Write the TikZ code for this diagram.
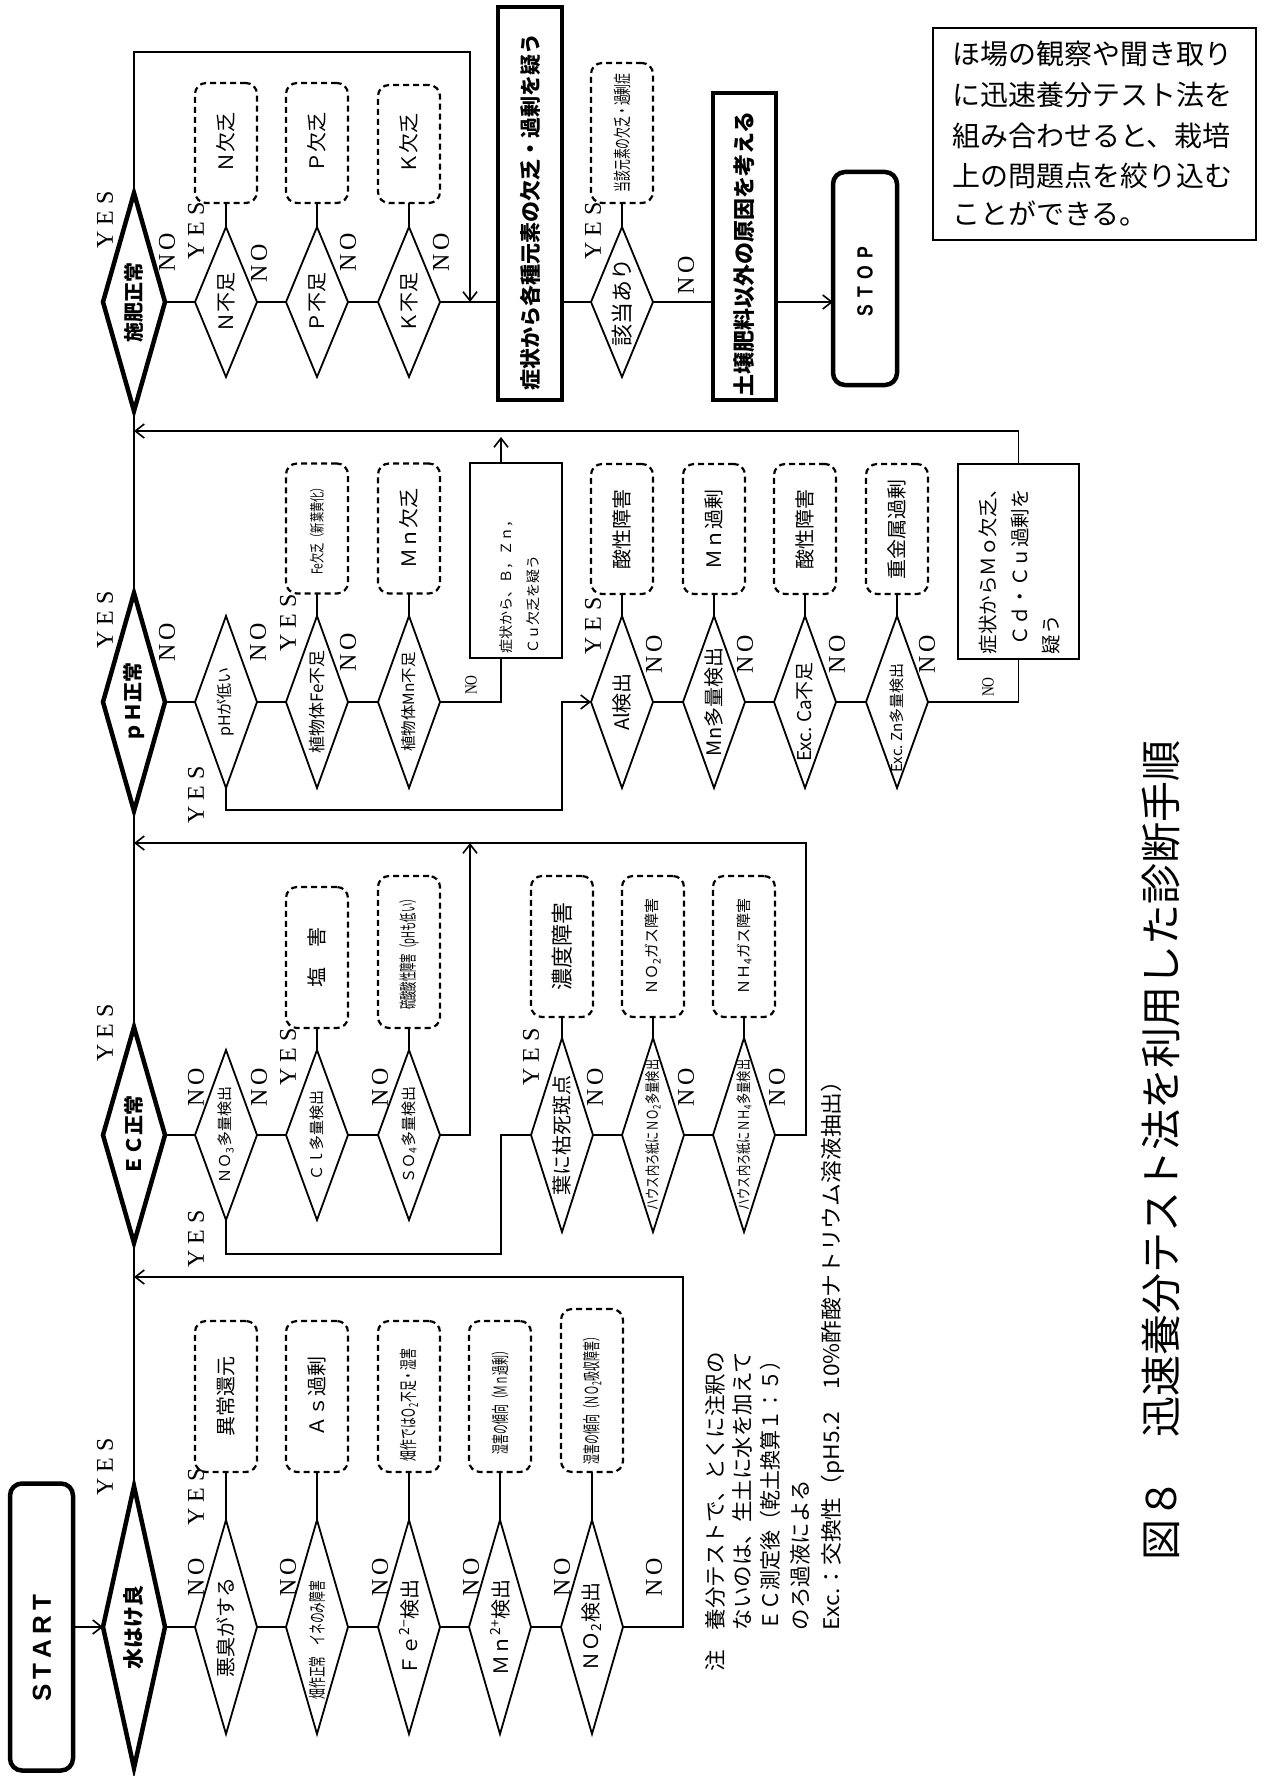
\documentclass[tikz,border=0pt]{standalone}
\usepackage{fontspec}
\usepackage{graphicx}
\setmainfont{Liberation Serif}
\newfontfamily\jp{Noto Sans CJK JP}
\newfontfamily\lsans{Liberation Sans}
\usetikzlibrary{shapes.geometric,arrows.meta}
\newcommand\fs[1]{\fontsize{#1}{#1}\selectfont}
\newcommand\cnd[2]{\scalebox{#1}[1]{#2}}
\newcommand\subs[1]{\textsubscript{#1}}
\newcommand\yesL{Y\hspace{6pt}E\hspace{6pt}S}
\newcommand\noL{N\hspace{4pt}O}
\begin{document}
\begin{tikzpicture}[x=1pt,y=-1pt,
  every node/.style={inner sep=0pt, outer sep=0pt},
  maindia/.style={diamond, draw, line width=4.5pt, minimum width=62pt},
  subdia/.style={diamond, draw, line width=1.8pt, minimum width=62pt},
  resbox/.style={draw, line width=2.2pt, dash pattern=on 6pt off 4pt, rounded corners=11pt, minimum width=62pt},
  thickbox/.style={draw, line width=4.5pt, rectangle},
  notebox/.style={draw, line width=1.5pt, rectangle},
  t/.style={rotate=90, font={\jp\fs{#1}}},
  tb/.style={rotate=90, font={\jp\bfseries\fs{#1}}},
  yn/.style={rotate=90, font={\fs{24}}},
  ln/.style={line width=2.2pt},
  thin/.style={line width=1.6pt},
  arr/.style={-{Straight Barb[length=9pt,width=14pt]}},
]
\fill[white] (0,0) rectangle (1272,1776);
\useasboundingbox (0,0) rectangle (1272,1776);

% ---------- START ----------
\node[thickbox, rounded corners=12pt, minimum width=63pt, minimum height=287pt] (start) at (41.5,1627) {};
\node[rotate=90, font={\lsans\bfseries\fs{26}}] (startt) at (42,1648) {S\hspace{5pt}T\hspace{5pt}A\hspace{5pt}R\hspace{5pt}T};

% ---------- water section ----------
\node[maindia, minimum height=282pt] (wm) at (134,1627) {};
\node[tb=21] (wmt) at (wm) {水はけ良};
\node[subdia, minimum height=214pt] (w1) at (226,1627) {};
\node[subdia, minimum height=214pt] (w2) at (317,1627) {};
\node[subdia, minimum height=214pt] (w3) at (409,1627) {};
\node[subdia, minimum height=214pt] (w4) at (500,1627) {};
\node[subdia, minimum height=214pt] (w5) at (592,1627) {};
\node[t=20] (w1t) at (w1) {悪臭がする};
\node[t=18] (w2t) at (317,1640) {\cnd{0.6}{畑作正常　イネのみ障害}};
\node[t=20] (w3t) at (w3) {Ｆｅ\textsuperscript{2−}検出};
\node[t=20] (w4t) at (w4) {Ｍｎ\textsuperscript{2+}検出};
\node[t=20] (w5t) at (w5) {ＮＯ\subs{2}検出};
\node[resbox, minimum height=151pt] (wb1) at (226,1396.5) {};
\node[resbox, minimum height=151pt] (wb2) at (317,1396.5) {};
\node[resbox, minimum height=151pt] (wb3) at (409,1396.5) {};
\node[resbox, minimum height=151pt] (wb4) at (500,1396.5) {};
\node[resbox, minimum height=163pt] (wb5) at (592,1390.5) {};
\node[t=20] (wb1t) at (wb1) {異常還元};
\node[t=20] (wb2t) at (wb2) {Ａｓ過剰};
\node[t=18] (wb3t) at (409,1405) {\cnd{0.6}{畑作ではＯ\subs{2}不足・湿害}};
\node[t=18] (wb4t) at (500,1400) {\cnd{0.55}{湿害の傾向（Ｍｎ過剰）}};
\node[t=18] (wb5t) at (592,1398) {\cnd{0.55}{湿害の傾向（ＮＯ\subs{2}吸収障害）}};
\foreach \i in {1,...,5} \draw[ln] (w\i.north) -- (wb\i.south);
\draw[ln] (wm.east) -- (w1.west);
\draw[ln] (w1.east) -- (w2.west);
\draw[ln] (w2.east) -- (w3.west);
\draw[ln] (w3.east) -- (w4.west);
\draw[ln] (w4.east) -- (w5.west);
\coordinate (wr) at (683,1277);
\coordinate (ws) at (134,1277);
\draw[thin,arr] (w5.east) -| (wr) -- (ws);
\draw[thin,arr] (start.east) -- (wm.west);

% ---------- EC section ----------
\node[maindia, minimum height=216pt] (ecm) at (134,1135) {};
\node[tb=20] (ecmt) at (ecm) {ＥＣ正常};
\node[subdia, minimum height=170pt] (e1) at (226,1135) {};
\node[subdia, minimum height=170pt] (e2) at (317,1135) {};
\node[subdia, minimum height=170pt] (e3) at (409,1135) {};
\node[subdia, minimum height=194pt] (e4) at (562,1135) {};
\node[subdia, minimum height=194pt] (e5) at (653,1135) {};
\node[subdia, minimum height=194pt] (e6) at (744,1135) {};
\node[t=15] (e1t) at (e1) {ＮＯ\subs{3}多量検出};
\node[t=15] (e2t) at (e2) {Ｃｌ多量検出};
\node[t=15] (e3t) at (e3) {ＳＯ\subs{4}多量検出};
\node[t=20] (e4t) at (e4) {葉に枯死斑点};
\node[t=15] (e5t) at (e5) {\cnd{0.75}{ハウス内ろ紙にＮＯ\subs{2}多量検出}};
\node[t=15] (e6t) at (e6) {\cnd{0.75}{ハウス内ろ紙にＮＨ\subs{4}多量検出}};
\node[resbox, minimum height=141pt] (eb2) at (317,957.5) {};
\node[resbox, minimum height=152pt] (eb3) at (409,952) {};
\node[resbox, minimum height=141pt] (eb4) at (562,946.5) {};
\node[resbox, minimum height=141pt] (eb5) at (653,946.5) {};
\node[resbox, minimum height=141pt] (eb6) at (744,946.5) {};
\node[t=20] (eb2t) at (eb2) {塩　害};
\node[t=18] (eb3t) at (eb3) {\cnd{0.52}{硫酸酸性障害（pHも低い）}};
\node[t=22] (eb4t) at (eb4) {濃度障害};
\node[t=15] (eb5t) at (eb5) {ＮＯ\subs{2}ガス障害};
\node[t=15] (eb6t) at (eb6) {ＮＨ\subs{4}ガス障害};
\foreach \i in {2,...,6} \draw[ln] (e\i.north) -- (eb\i.south);
\draw[ln] (ecm.east) -- (e1.west);
\draw[ln] (e1.east) -- (e2.west);
\draw[ln] (e2.east) -- (e3.west);
\draw[ln] (e4.east) -- (e5.west);
\draw[ln] (e5.east) -- (e6.west);
\coordinate (ea) at (470,843);
\draw[thin,arr] (e3.east) -| (ea);
\coordinate (er) at (806,843);
\coordinate (es) at (134,843);
\draw[thin,arr] (e6.east) -| (er) -- (es);
\coordinate (eb) at (501,1254);
\draw[thin] (e1.south) |- (eb) |- (e4.west);

% ---------- pH section ----------
\node[maindia, minimum height=218pt] (phm) at (134,702) {};
\node[tb=20] (phmt) at (phm) {ｐＨ正常};
\node[subdia, minimum height=172pt] (p1) at (226,702) {};
\node[subdia, minimum height=172pt] (p2) at (317,702) {};
\node[subdia, minimum height=172pt] (p3) at (409,702) {};
\node[subdia, minimum height=172pt] (p4) at (622,702) {};
\node[subdia, minimum height=172pt] (p5) at (714,702) {};
\node[subdia, minimum height=172pt] (p6) at (805,702) {};
\node[subdia, minimum height=172pt] (p7) at (897,702) {};
\node[t=16] (p1t) at (p1) {pHが低い};
\node[t=17] (p2t) at (p2) {植物体Fe不足};
\node[t=15.5] (p3t) at (p3) {植物体Mn不足};
\node[t=20] (p4t) at (p4) {Al検出};
\node[t=20] (p5t) at (p5) {Mn多量検出};
\node[t=19] (p6t) at (805,712) {Exc.\ Ca不足};
\node[t=15] (p7t) at (897,718) {Exc.\ Zn多量検出};
\node[resbox, minimum height=130pt] (pb2) at (317,528.5) {};
\node[resbox, minimum height=130pt] (pb3) at (409,528.5) {};
\node[resbox, minimum height=130pt] (pb4) at (622,529) {};
\node[resbox, minimum height=130pt] (pb5) at (714,529) {};
\node[resbox, minimum height=130pt] (pb6) at (805,529) {};
\node[resbox, minimum height=130pt] (pb7) at (897,529) {};
\node[t=15] (pb2t) at (pb2) {\cnd{0.68}{Fe欠乏（新葉黄化）}};
\node[t=20] (pb3t) at (pb3) {Ｍｎ欠乏};
\node[t=20] (pb4t) at (pb4) {酸性障害};
\node[t=20] (pb5t) at (pb5) {Ｍｎ過剰};
\node[t=20] (pb6t) at (pb6) {酸性障害};
\node[t=20] (pb7t) at (pb7) {重金属過剰};
\foreach \i in {2,...,7} \draw[ln] (p\i.north) -- (pb\i.south);
\node[notebox, minimum width=92pt, minimum height=195pt] (bzn) at (516,560.5) {};
\node[t=14, anchor=west] (bz1) at (506,653) {症状から、Ｂ，Ｚｎ，};
\node[t=14, anchor=west] (bz2) at (533,653) {Ｃｕ欠乏を疑う};
\node[notebox, minimum width=121pt, minimum height=195pt] (mo) at (1018.5,561.5) {};
\node[t=19.5, anchor=west] (mo1) at (988,654) {症状からＭｏ欠乏、};
\node[t=19.5, anchor=west] (mo2) at (1020,645) {Ｃｄ・Ｃｕ過剰を};
\node[t=19.5, anchor=west] (mo3) at (1051,654) {疑う};
\draw[ln] (phm.east) -- (p1.west);
\draw[ln] (p1.east) -- (p2.west);
\draw[ln] (p2.east) -- (p3.west);
\draw[ln] (p4.east) -- (p5.west);
\draw[ln] (p5.east) -- (p6.west);
\draw[ln] (p6.east) -- (p7.west);
\coordinate (bzx) at (501,0);
\draw[thin] (p3.east) -| (bzn.south -| bzx);
\coordinate (bzt) at (501,437);
\draw[thin,arr] (bzn.north -| bzx) -- (bzt);
\draw[thin] (p7.east) -| (mo.south);
\coordinate (ps) at (134,431);
\draw[thin,arr] (mo.north) |- (ps);
\coordinate (pb) at (562,810);
\draw[thin,arr] (p1.south) |- (pb) |- (p4.west);

% ---------- fertilizer section ----------
\node[maindia, minimum height=218pt] (fm) at (134,302) {};
\node[tb=20] (fmt) at (fm) {施肥正常};
\node[subdia, minimum height=150pt] (f1) at (226,302) {};
\node[subdia, minimum height=150pt] (f2) at (317,302) {};
\node[subdia, minimum height=150pt] (f3) at (409,302) {};
\node[subdia, minimum height=150pt] (f4) at (622,302) {};
\node[t=20] (f1t) at (f1) {Ｎ不足};
\node[t=20] (f2t) at (f2) {Ｐ不足};
\node[t=20] (f3t) at (f3) {Ｋ不足};
\node[t=22] (f4t) at (f4) {該当あり};
\node[resbox, minimum height=120pt] (fb1) at (226,143) {};
\node[resbox, minimum height=120pt] (fb2) at (317,143) {};
\node[resbox, minimum height=118pt] (fb3) at (409,144) {};
\node[resbox, minimum height=140pt] (fb4) at (622,133) {};
\node[t=20] (fb1t) at (fb1) {Ｎ欠乏};
\node[t=20] (fb2t) at (fb2) {Ｐ欠乏};
\node[t=20] (fb3t) at (fb3) {Ｋ欠乏};
\node[t=18] (fb4t) at (fb4) {\cnd{0.6}{当該元素の欠乏・過剰症}};
\foreach \i in {1,...,4} \draw[ln] (f\i.north) -- (fb\i.south);
\node[thickbox, minimum width=64pt, minimum height=393pt] (shojo) at (530,203.5) {};
\node[tb=21] (shojot) at (530,212) {症状から各種元素の欠乏・過剰を疑う};
\node[thickbox, minimum width=63pt, minimum height=307pt] (dojo) at (744.5,246.5) {};
\node[tb=22] (dojot) at (744.5,254) {土壌肥料以外の原因を考える};
\node[thickbox, rounded corners=12pt, minimum width=64pt, minimum height=213pt] (stop) at (865,278.5) {};
\node[rotate=90, font={\lsans\bfseries\fs{22}}] (stopt) at (865,282) {\cnd{0.8}{S\hspace{9pt}T\hspace{9pt}O\hspace{9pt}P}};
\draw[ln] (fm.east) -- (f1.west);
\draw[ln] (f1.east) -- (f2.west);
\draw[ln] (f2.east) -- (f3.west);
\draw[ln] (f3.east) -- (f3.east -| shojo.west);
\draw[ln] (f4.west -| shojo.east) -- (f4.west);
\draw[ln] (f4.east) -- (f4.east -| dojo.west);
\draw[thin,arr] (f4.east -| dojo.east) -- (f4.east -| stop.west);
\coordinate (ft) at (470,52);
\draw[thin,arr] (fm.north) |- (ft) -- (ft |- f3.east);

% ---------- spine ----------
\draw[thin] (wm.north) -- (ecm.south);
\draw[thin] (ecm.north) -- (phm.south);
\draw[thin] (phm.north) -- (fm.south);

% ---------- YES / NO labels ----------
\foreach \px/\py [count=\i] in {105/1467,196/1497,105/1033,288/1057,196/1239,531/1057,105/620,288/623,196/795,593/626,105/220,196/231,593/231}
  \node[yn] (lyes\i) at (\px,\py) {\yesL};
\foreach \px/\py [count=\i] in {196/1577,288/1577,380/1577,471/1577,562/1577,654/1577,196/1087,259/1087,380/1087,595/1087,686/1087,777/1087,167/642,258/642,348/652,654/654,745/654,837/654,927/654,167/252,259/263,348/252,441/252,686/275}
  \node[yn] (lno\i) at (\px,\py) {\noL};
\node[rotate=90, font={\fs{17}}] (lsm1) at (471,685) {\cnd{0.8}{NO}};
\node[rotate=90, font={\fs{17}}] (lsm2) at (988,687) {\cnd{0.8}{NO}};

% ---------- footnote ----------
\node[t=21.5] (n0) at (715,1661) {注};
\node[t=21.5, anchor=west] (n1) at (715,1630) {養分テストで、とくに注釈の};
\node[t=21.5, anchor=west] (n2) at (742,1630) {ないのは、生土に水を加えて};
\node[t=21.5, anchor=west] (n3) at (770,1630) {\cnd{0.93}{ＥＣ測定後（乾土換算１：５）}};
\node[t=21.5, anchor=west] (n4) at (800,1630) {のろ過液による};
\node[t=21.5, anchor=west] (n5) at (833,1630) {\cnd{1.06}{Exc.：交換性（pH5.2　10\%酢酸ナトリウム溶液抽出）}};

% ---------- caption ----------
\node[t=41] (cap) at (1161,1150) {図８　迅速養分テスト法を利用した診断手順};

% ---------- text box ----------
\node[draw, line width=2.2pt, minimum width=323pt, minimum height=212pt] (tbox) at (1094.5,134) {};
\node[font={\jp\fs{28}}, anchor=west] (tb1) at (952,54) {ほ場の観察や聞き取り};
\node[font={\jp\fs{28}}, anchor=west] (tb2) at (952,95) {に迅速養分テスト法を};
\node[font={\jp\fs{28}}, anchor=west] (tb3) at (952,136) {組み合わせると、栽培};
\node[font={\jp\fs{28}}, anchor=west] (tb4) at (952,176) {上の問題点を絞り込む};
\node[font={\jp\fs{28}}, anchor=west] (tb5) at (952,214) {ことができる。};
\end{tikzpicture}
\end{document}
